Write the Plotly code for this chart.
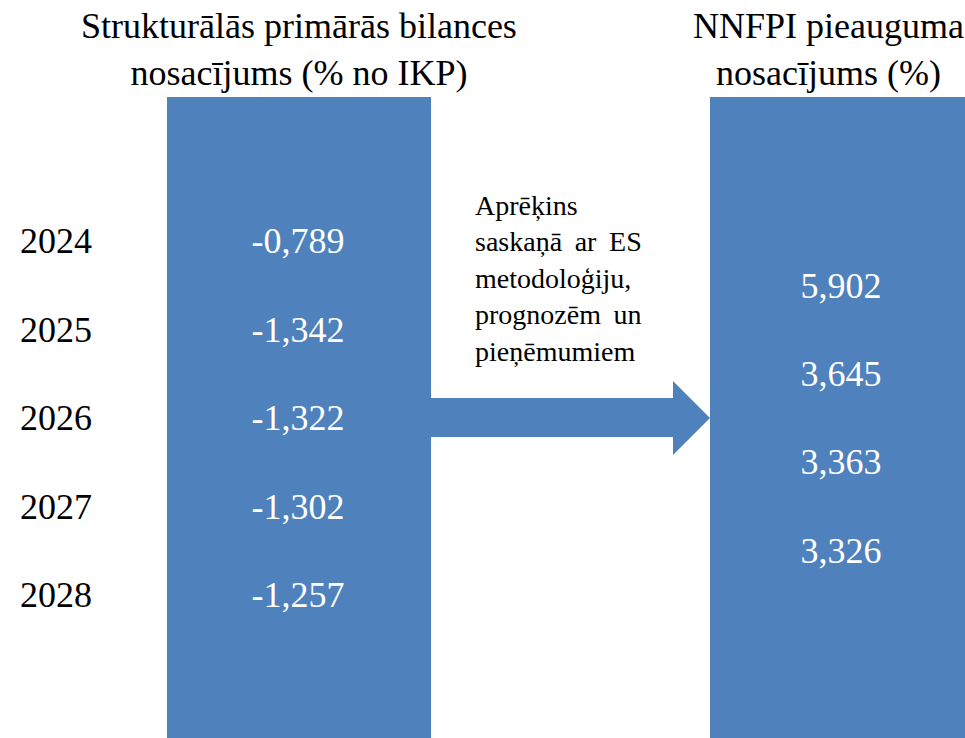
import plotly.graph_objects as go

years = ["2024", "2025", "2026", "2027", "2028"]
primary_balance = ["-0,789", "-1,342", "-1,322", "-1,302", "-1,257"]
nnfpi_growth = ["5,902", "3,645", "3,363", "3,326"]
title_left = "Strukturālās primārās bilances<br>nosacījums (% no IKP)"
title_right = "NNFPI pieauguma<br>nosacījums (%)"
explanation = ["Aprēķins", "saskaņā\u2009 ar\u2009 ES", "metodoloģiju,",
               "prognozēm\u2009 un", "pieņēmumiem"]

BLUE = "#4F81BD"
FONT = "Liberation Serif, Times New Roman, serif"
W, H = 965, 738

fig = go.Figure()

# background boxes and arrow (layout decoration)
fig.add_shape(type="rect", x0=167, x1=431, y0=97, y1=H + 10,
              fillcolor=BLUE, line_width=0, layer="below")
fig.add_shape(type="rect", x0=710, x1=980, y0=97, y1=H + 10,
              fillcolor=BLUE, line_width=0, layer="below")
fig.add_shape(type="path",
              path="M 430 398 L 673 398 L 673 381 L 710 418 L 673 455 L 673 437 L 430 437 Z",
              fillcolor=BLUE, line_width=0, layer="below")

row_y0, row_step = 244, 88.5
fig.add_trace(go.Scatter(
    x=[56] * len(years), y=[row_y0 + i * row_step for i in range(len(years))],
    text=years, mode="text", textposition="middle center",
    textfont=dict(family=FONT, size=36, color="black"), hoverinfo="skip"))
fig.add_trace(go.Scatter(
    x=[298] * len(primary_balance),
    y=[row_y0 + i * row_step for i in range(len(primary_balance))],
    text=primary_balance, mode="text", textposition="middle center",
    textfont=dict(family=FONT, size=36, color="white"), hoverinfo="skip"))
fig.add_trace(go.Scatter(
    x=[841] * len(nnfpi_growth),
    y=[289 + i * 88.2 for i in range(len(nnfpi_growth))],
    text=nnfpi_growth, mode="text", textposition="middle center",
    textfont=dict(family=FONT, size=36, color="white"), hoverinfo="skip"))

fig.add_annotation(x=299, y=49, xref="x", yref="y", text=title_left,
                   showarrow=False, xanchor="center", yanchor="middle",
                   font=dict(family=FONT, size=36, color="black"))
fig.add_annotation(x=828, y=49, xref="x", yref="y", text=title_right,
                   showarrow=False, xanchor="center", yanchor="middle",
                   font=dict(family=FONT, size=36, color="black"))
fig.add_annotation(x=473, y=278, xref="x", yref="y", text="<br>".join(explanation),
                   showarrow=False, xanchor="left", yanchor="middle", align="left",
                   font=dict(family=FONT, size=28, color="black"))

fig.update_layout(
    width=W, height=H, autosize=False,
    margin=dict(l=0, r=0, t=0, b=0),
    paper_bgcolor="white", plot_bgcolor="white",
    showlegend=False,
    xaxis=dict(range=[0, W], visible=False, fixedrange=True),
    yaxis=dict(range=[H, 0], visible=False, fixedrange=True),
)

fig.write_html("out.html", config={"displayModeBar": False},
               post_script="document.body.style.margin='0';document.body.style.overflow='hidden';")
